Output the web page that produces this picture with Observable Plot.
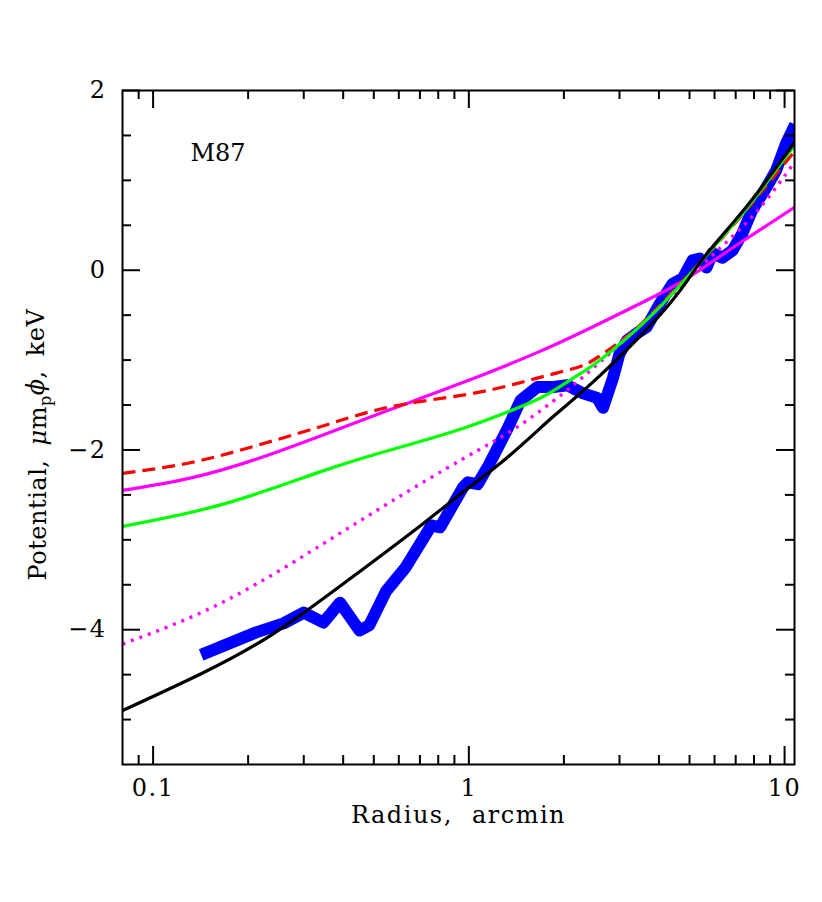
<!DOCTYPE html>
<html><head><meta charset="utf-8">
<script src="https://cdn.jsdelivr.net/npm/d3@7"></script>
<script src="https://cdn.jsdelivr.net/npm/@observablehq/plot@0.6"></script>
<style>body{margin:0;background:#fff;}</style>
</head><body><div id="chart"></div>
<script>
// Observed (deprojected) potential profile, blue band
const obsR   = [0.142,0.212,0.259,0.300,0.346,0.391,0.451,0.484,0.547,0.630,0.761,0.811,0.957,0.993,1.067,1.156,1.327,1.458,1.649,1.853,2.05,2.30,2.55,2.66,2.86,3.00,3.17,3.41,3.66,4.03,4.42,4.76,5.11,5.38,5.66,5.91,6.36,6.84,7.35,7.90,8.75,9.40,10.11,10.8];
const obsPhi = [-4.28,-4.03,-3.93,-3.81,-3.92,-3.70,-4.01,-3.95,-3.57,-3.31,-2.84,-2.86,-2.42,-2.36,-2.38,-2.17,-1.76,-1.45,-1.30,-1.30,-1.28,-1.37,-1.42,-1.53,-1.20,-0.93,-0.78,-0.70,-0.63,-0.37,-0.15,-0.09,0.11,0.13,0.03,0.19,0.14,0.22,0.41,0.67,0.92,1.11,1.41,1.62];

// Model curves
const blackR   = [0.08,0.142,0.2415,0.4406,0.716,0.957,1.327,1.862,2.606,4.236,5.383,6.839,8.318,10.75];
const blackPhi = [-4.90,-4.49,-4.04,-3.38,-2.82,-2.47,-2.08,-1.62,-1.17,-0.41,0.08,0.52,0.89,1.42];

const greenR   = [0.08,0.168,0.347,0.564,0.957,1.387,1.774,2.254,2.606,3.741,5.383,7.194,8.750,10.75];
const greenPhi = [-2.85,-2.60,-2.23,-2.00,-1.76,-1.55,-1.38,-1.15,-1.00,-0.52,0.08,0.59,0.97,1.39];

const magR   = [0.08,0.132,0.213,0.347,0.564,0.957,1.686,2.606,4.236,5.383,7.194,10.75];
const magPhi = [-2.45,-2.31,-2.10,-1.83,-1.55,-1.25,-0.90,-0.59,-0.22,0.00,0.30,0.70];

const redR   = [0.08,0.132,0.213,0.347,0.564,0.957,1.387,1.774,2.254,2.606,3.311,4.236,5.383,7.194,8.750,10.75];
const redPhi = [-2.26,-2.14,-1.95,-1.73,-1.52,-1.39,-1.27,-1.17,-1.07,-0.95,-0.68,-0.31,0.08,0.58,0.94,1.32];

const dotR   = [0.08,0.132,0.213,0.347,0.564,0.957,1.387,1.99,2.606,3.741,5.383,7.194,8.750,10.75];
const dotPhi = [-4.16,-3.86,-3.49,-3.04,-2.58,-2.10,-1.77,-1.37,-1.02,-0.52,0.03,0.45,0.78,1.20];

// Axes / ticks
const xMajor = [0.1, 1, 10];
const xMinor = [0.09,0.2,0.3,0.4,0.5,0.6,0.7,0.8,0.9,2,3,4,5,6,7,8,9];
const yMajor = [-4, -2, 0, 2];
const yMinor = [-5,-4.5,-3.5,-3,-2.5,-1.5,-1,-0.5,0.5,1,1.5];
const xLabel = "Radius, arcmin";
const yLabel = "Potential, μmpϕ, keV";
const annotation = ["M87"];

const zip = (xs, ys) => xs.map((x, i) => ({r: x, phi: ys[i]}));

const W = 822, H = 902;
const mL = 122, mR = 28, mT = 90, mB = 138;
const innerW = W - mL - mR, innerH = H - mT - mB;
const majLen = 18, minLen = 9;

const tickStyle = {stroke: "black", strokeWidth: 2};
const lw = 3.2;

const chart = Plot.plot({
  width: W, height: H,
  marginLeft: mL, marginRight: mR, marginTop: mT, marginBottom: mB,
  style: {fontFamily: "'DejaVu Serif', serif", fontSize: "24px", color: "black", background: "white", letterSpacing: "1.5px", wordSpacing: "10px"},
  x: {type: "log", domain: [0.08, 10.75]},
  y: {domain: [-5.5, 2]},
  marks: [
    Plot.line(zip(obsR, obsPhi), {x: "r", y: "phi", stroke: "#0000ff", strokeWidth: 12, strokeLinejoin: "round", strokeLinecap: "butt", clip: true}),
    Plot.line(zip(magR, magPhi), {x: "r", y: "phi", stroke: "#ff00ff", strokeWidth: lw, curve: "natural", clip: true}),
    Plot.line(zip(redR, redPhi), {x: "r", y: "phi", stroke: "#ff0000", strokeWidth: lw, strokeDasharray: "13,7", strokeLinecap: "butt", curve: "natural", clip: true}),
    Plot.line(zip(dotR, dotPhi), {x: "r", y: "phi", stroke: "#ff00ff", strokeWidth: 3.4, strokeDasharray: "3,6", strokeLinecap: "butt", curve: "natural", clip: true}),
    Plot.line(zip(greenR, greenPhi), {x: "r", y: "phi", stroke: "#00ff00", strokeWidth: lw, curve: "natural", clip: true}),
    Plot.line(zip(blackR, blackPhi), {x: "r", y: "phi", stroke: "black", strokeWidth: lw, curve: "natural", clip: true}),
    // inward ticks
    Plot.tickX(xMajor, {x: d => d, insetTop: innerH - majLen, ...tickStyle}),
    Plot.tickX(xMinor, {x: d => d, insetTop: innerH - minLen, ...tickStyle}),
    Plot.tickX(xMajor, {x: d => d, insetBottom: innerH - majLen, ...tickStyle}),
    Plot.tickX(xMinor, {x: d => d, insetBottom: innerH - minLen, ...tickStyle}),
    Plot.tickY(yMajor, {y: d => d, insetRight: innerW - majLen, ...tickStyle}),
    Plot.tickY(yMinor, {y: d => d, insetRight: innerW - minLen, ...tickStyle}),
    Plot.tickY(yMajor, {y: d => d, insetLeft: innerW - majLen, ...tickStyle}),
    Plot.tickY(yMinor, {y: d => d, insetLeft: innerW - minLen, ...tickStyle}),
    Plot.frame({stroke: "black", strokeWidth: 2}),
    Plot.axisX({ticks: xMajor, tickFormat: d => String(d), tickSize: 0, tickPadding: 14,
      label: xLabel, labelAnchor: "center", labelOffset: 58, labelArrow: "none"}),
    Plot.axisY({ticks: yMajor, tickSize: 0, tickPadding: 16, label: null}),
    Plot.text([yLabel], {text: d => d, frameAnchor: "left", rotate: -90, dx: -84, dy: 17, textAnchor: "middle", lineAnchor: "middle", fill: "black"}),
    Plot.text(annotation, {text: d => d, frameAnchor: "top-left", dx: 68, dy: 53, textAnchor: "start", lineAnchor: "top", fill: "black"})
  ]
});

// Subscript "p" and Greek italics in the y label; tighter spacing for the annotation
chart.querySelectorAll("text").forEach(t => {
  if (t.textContent === yLabel) {
    t.innerHTML = 'Potential, <tspan font-style="italic">μ</tspan>m<tspan dy="0.3em" font-size="16px">p</tspan><tspan dy="-0.3em" font-style="italic">ϕ</tspan>, keV';
    t.style.letterSpacing = "0.5px";
    t.style.wordSpacing = "6px";
  }
  if (t.textContent === annotation[0]) t.style.letterSpacing = "0px";
});
document.getElementById("chart").appendChild(chart);
</script>
</body></html>
